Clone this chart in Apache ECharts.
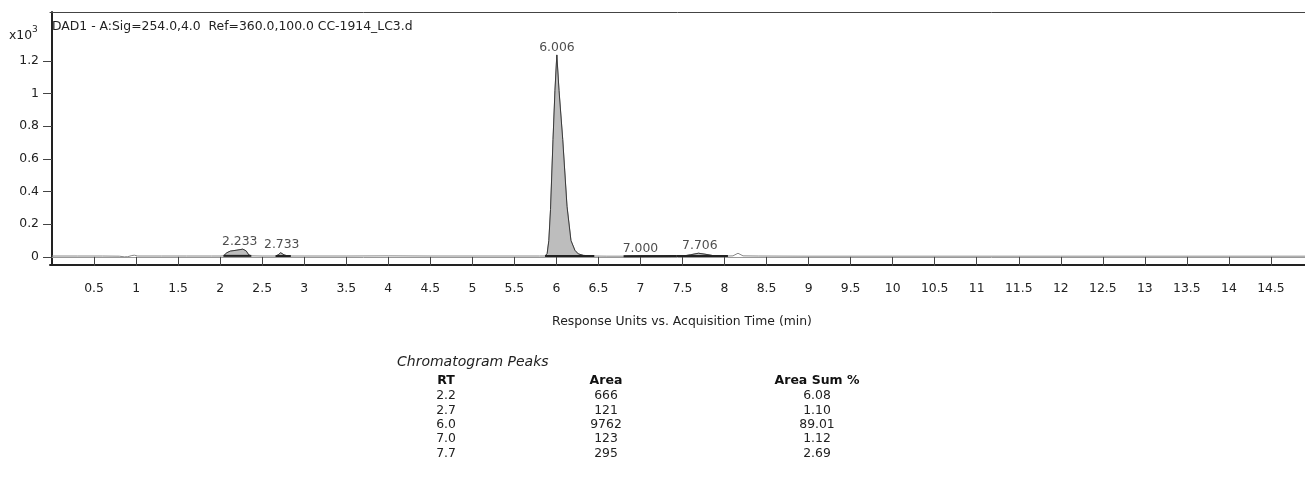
<!DOCTYPE html>
<html>
<head>
<meta charset="utf-8">
<script src="https://cdn.jsdelivr.net/npm/echarts@6/dist/echarts.min.js"></script>
<style>
html,body{margin:0;padding:0;background:#fff;}
#chart{width:1305px;height:482px;}
</style>
</head>
<body>
<div id="chart"></div>
<script>
// ---- data (signal in x10^3 response units, time in min) ----
const traceTime = [0.0,0.3,0.6,0.8,0.86,0.9,0.95,0.98,1.02,1.3,1.6,1.9,2.0,2.04,2.08,2.12,2.2,2.27,2.31,2.34,2.37,2.5,2.66,2.69,2.72,2.76,2.8,2.84,3.0,3.5,4.0,4.5,5.0,5.5,5.8,5.865,5.89,5.91,5.93,5.96,5.983,6.005,6.031,6.075,6.126,6.173,6.22,6.26,6.32,6.4,6.45,6.6,6.8,7.0,7.2,7.43,7.53,7.6,7.69,7.78,7.87,8.04,8.1,8.16,8.22,8.4,9,10,11,12,13,14,14.95];
const traceSignal = [0.005,0.005,0.005,0.004,0.0,0.001,0.008,0.01,0.005,0.005,0.005,0.005,0.005,0.006,0.025,0.035,0.041,0.047,0.036,0.012,0.006,0.005,0.005,0.012,0.025,0.012,0.006,0.005,0.005,0.005,0.006,0.005,0.005,0.005,0.005,0.005,0.02,0.10,0.29,0.72,1.02,1.237,1.02,0.72,0.31,0.10,0.04,0.018,0.009,0.006,0.005,0.004,0.004,0.006,0.005,0.005,0.007,0.013,0.022,0.015,0.007,0.005,0.006,0.022,0.006,0.005,0.004,0.004,0.004,0.004,0.004,0.004,0.004];

const peakLabels = ["2.233","2.733","6.006","7.000","7.706"];
const peakRT     = [2.233, 2.733, 6.006, 7.000, 7.706];
const peakStart  = [2.04, 2.66, 5.865, 6.8, 7.43];
const peakEnd    = [2.37, 2.84, 6.45, 7.43, 8.04];

const xTicks = [0.5,1,1.5,2,2.5,3,3.5,4,4.5,5,5.5,6,6.5,7,7.5,8,8.5,9,9.5,10,10.5,11,11.5,12,12.5,13,13.5,14,14.5];
const yTicks = [0,0.2,0.4,0.6,0.8,1,1.2];

const tableRT   = ["2.2","2.7","6.0","7.0","7.7"];
const tableArea = ["666","121","9762","123","295"];
const tablePct  = ["6.08","1.10","89.01","1.12","2.69"];

// ---- build ----
const FONT = 'DejaVu Sans';
const FS = 12.4;
const trace = traceTime.map((t,i)=>[t, traceSignal[i]]);
function interp(t){
  for(let i=0;i<traceTime.length-1;i++){
    if(t>=traceTime[i] && t<=traceTime[i+1]){
      const f=(t-traceTime[i])/(traceTime[i+1]-traceTime[i]);
      return traceSignal[i]+f*(traceSignal[i+1]-traceSignal[i]);
    }
  }
  return traceSignal[traceSignal.length-1];
}

const series = [{
  type:'line', data: trace, symbol:'none', xAxisIndex:0, yAxisIndex:0,
  lineStyle:{color:'#8a8a8a', width:1}, z:2, silent:true
}];
const labelData = [];
peakStart.forEach((s,i)=>{
  const e = peakEnd[i];
  const pts = [[s, interp(s)]].concat(trace.filter(p=>p[0]>s && p[0]<e)).concat([[e, interp(e)]]);
  series.push({
    type:'line', data: pts, symbol:'none', xAxisIndex:0, yAxisIndex:0,
    lineStyle:{color:'#3a3a3a', width:1}, areaStyle:{color:'#bdbdbd', opacity:1}, z:3, silent:true
  });
  series.push({
    type:'line', data: [[s, interp(s)],[e, interp(e)]], symbol:'none', xAxisIndex:0, yAxisIndex:0,
    lineStyle:{color:'#222', width:2}, z:4, silent:true
  });
  const apex = Math.max.apply(null, pts.map(p=>p[1]));
  labelData.push({name: peakLabels[i], value:[peakRT[i], apex]});
});
series.push({
  type:'scatter', data: labelData, symbolSize:1, itemStyle:{color:'rgba(0,0,0,0)'}, xAxisIndex:0, yAxisIndex:0,
  label:{show:true, position:'top', distance:1, formatter:p=>p.data.name, color:'#222', fontFamily:FONT, fontSize:FS},
  z:5, silent:true
});

const graphic = [
  {type:'text', left:52, top:21, style:{text:'DAD1 - A:Sig=254.0,4.0  Ref=360.0,100.0 CC-1914_LC3.d', font:FS+'px "DejaVu Sans"', fill:'#222'}},
  {type:'text', left:9, top:25, style:{text:'{a|x10}{b|3}', rich:{a:{font:FS+'px "DejaVu Sans"', fill:'#222', verticalAlign:'bottom'}, b:{font:'9px "DejaVu Sans"', fill:'#222', padding:[0,0,8,0], verticalAlign:'bottom'}}}},
  {type:'text', x:682, y:322, style:{text:'Response Units vs. Acquisition Time (min)', font:FS+'px "DejaVu Sans"', fill:'#222', align:'center', verticalAlign:'middle'}},
  {type:'text', x:397, y:362, style:{text:'Chromatogram Peaks', font:'italic 14px "DejaVu Sans"', fill:'#222', align:'left', verticalAlign:'middle'}}
];
const colX = [446, 606, 817];
const headers = ['RT','Area','Area Sum %'];
headers.forEach((h,i)=>graphic.push({type:'text', x:colX[i], y:381, style:{text:h, font:'bold 12.5px "DejaVu Sans"', fill:'#111', align:'center', verticalAlign:'middle'}}));
tableRT.forEach((r,j)=>{
  const y = 396 + j*14.4;
  [r, tableArea[j], tablePct[j]].forEach((v,i)=>graphic.push({type:'text', x:colX[i], y:y, style:{text:v, font:'12.4px "DejaVu Sans"', fill:'#222', align:'center', verticalAlign:'middle'}}));
});

const xMin = -0.024, xMax = 14.905;
const option = {
  animation:false,
  backgroundColor:'#fff',
  grid:{left:50, top:12, right:0, bottom:217, show:false},
  xAxis:[
    {type:'value', min:xMin, max:xMax, position:'bottom', offset:4,
     axisLine:{show:true, lineStyle:{color:'#999', width:1}},
     axisTick:{show:true, length:9, customValues:xTicks, lineStyle:{color:'#444'}},
     axisLabel:{show:true, customValues:xTicks, color:'#222', fontFamily:FONT, fontSize:FS, margin:14},
     splitLine:{show:false}},
    {type:'value', min:xMin, max:xMax, position:'bottom', offset:0,
     axisLine:{show:true, lineStyle:{color:'#222', width:2}},
     axisTick:{show:false}, axisLabel:{show:false}, splitLine:{show:false}},
    {type:'value', min:xMin, max:xMax, position:'top', offset:0,
     axisLine:{show:true, lineStyle:{color:'#444', width:1}},
     axisTick:{show:false}, axisLabel:{show:false}, splitLine:{show:false}}
  ],
  yAxis:[{type:'value', min:-0.05, max:1.5,
    axisLine:{show:true, lineStyle:{color:'#222', width:2}},
    axisTick:{show:true, length:9, customValues:yTicks, lineStyle:{color:'#444'}},
    axisLabel:{show:true, customValues:yTicks, color:'#222', fontFamily:FONT, fontSize:FS, margin:11},
    splitLine:{show:false}}],
  graphic: graphic,
  series: series
};
const chart = echarts.init(document.getElementById('chart'));
chart.setOption(option);
</script>
</body>
</html>
